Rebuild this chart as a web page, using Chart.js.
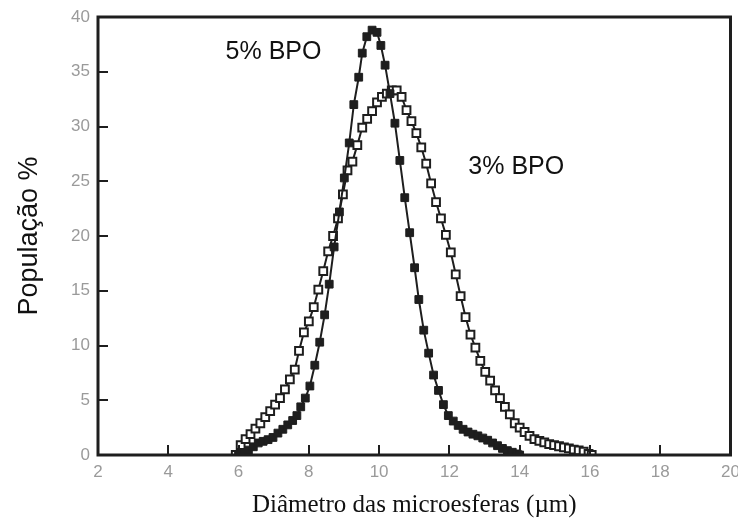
<!DOCTYPE html>
<html><head><meta charset="utf-8">
<script src="https://cdn.jsdelivr.net/npm/chart.js@4/dist/chart.umd.min.js"></script>
<style>html,body{margin:0;padding:0;background:#fff;}canvas{display:block;}</style>
</head><body>
<canvas id="c" width="738" height="527"></canvas>
<script>
// 5% BPO (filled squares)
const bpo5X = [6.00,6.14,6.28,6.42,6.56,6.70,6.84,6.98,7.12,7.26,7.40,7.54,7.66,7.77,7.90,8.03,8.17,8.31,8.45,8.58,8.72,8.87,9.01,9.15,9.28,9.42,9.52,9.65,9.80,9.94,10.05,10.17,10.31,10.45,10.59,10.73,10.87,11.01,11.13,11.27,11.41,11.55,11.69,11.83,11.97,12.11,12.25,12.39,12.53,12.67,12.81,12.95,13.09,13.23,13.37,13.51,13.65,13.79,13.93,14.00];
const bpo5Y = [0.0,0.2,0.45,0.75,1.1,1.25,1.4,1.6,2.0,2.35,2.75,3.15,3.6,4.4,5.2,6.3,8.2,10.3,12.8,15.6,19.0,22.2,25.3,28.5,32.0,34.5,36.7,38.2,38.8,38.6,37.4,35.6,33.0,30.3,26.9,23.5,20.3,17.1,14.2,11.4,9.3,7.3,5.9,4.6,3.6,3.1,2.7,2.35,2.1,1.9,1.75,1.55,1.35,1.1,0.85,0.6,0.4,0.25,0.1,0.0];
// 3% BPO (open squares)
const bpo3X = [5.92,6.06,6.20,6.34,6.48,6.62,6.76,6.90,7.04,7.18,7.32,7.46,7.60,7.72,7.86,8.00,8.14,8.27,8.41,8.55,8.69,8.83,8.97,9.10,9.24,9.38,9.52,9.66,9.80,9.94,10.08,10.22,10.36,10.50,10.64,10.78,10.92,11.06,11.20,11.34,11.48,11.62,11.76,11.90,12.04,12.18,12.32,12.46,12.60,12.74,12.88,13.02,13.16,13.30,13.44,13.58,13.72,13.86,14.00,14.14,14.28,14.42,14.56,14.70,14.84,14.98,15.12,15.26,15.40,15.54,15.68,15.82,15.96,16.05];
const bpo3Y = [0.0,0.9,1.45,1.9,2.4,2.9,3.45,4.0,4.6,5.2,6.0,6.9,7.8,9.5,11.2,12.2,13.5,15.1,16.8,18.6,20.0,21.6,23.8,26.0,26.8,28.3,29.9,30.7,31.4,32.2,32.7,33.0,33.3,33.3,32.7,31.5,30.5,29.4,28.1,26.6,24.8,23.1,21.6,20.1,18.5,16.5,14.5,12.6,11.0,9.8,8.6,7.6,6.8,5.9,5.2,4.4,3.7,2.9,2.5,2.1,1.75,1.45,1.3,1.15,1.0,0.9,0.8,0.7,0.6,0.5,0.42,0.3,0.1,0.0];
const xTicks = [2,4,6,8,10,12,14,16,18,20];
const yTicks = [0,5,10,15,20,25,30,35,40];
const labels = [
  {text:'5% BPO', x:5.63, y:36.8},
  {text:'3% BPO', x:12.54, y:26.25}
];
const xTitle = 'Diâmetro das microesferas (µm)';
const yTitle = 'População %';

const INK = '#1e1e1e';
const toPts = (xs, ys) => xs.map((x, i) => ({x, y: ys[i]}));

const framePlugin = {
  id: 'frame',
  afterDatasetsDraw(chart) {
    const {ctx, chartArea: a, scales: {x, y}} = chart;
    ctx.save();
    ctx.strokeStyle = INK;
    ctx.lineWidth = 2;
    xTicks.forEach(v => {
      if (v === xTicks[0] || v === xTicks[xTicks.length-1]) return;
      const px = Math.round(x.getPixelForValue(v));
      ctx.beginPath(); ctx.moveTo(px, a.bottom); ctx.lineTo(px, a.bottom - 10); ctx.stroke();
    });
    yTicks.forEach(v => {
      if (v === yTicks[0] || v === yTicks[yTicks.length-1]) return;
      const py = Math.round(y.getPixelForValue(v));
      ctx.beginPath(); ctx.moveTo(a.left, py); ctx.lineTo(a.left + 10, py); ctx.stroke();
    });
    ctx.lineWidth = 3;
    ctx.strokeRect(a.left, a.top, a.right - a.left, a.bottom - a.top);
    ctx.fillStyle = '#111';
    ctx.font = '25px "Liberation Sans", Arial, sans-serif';
    ctx.textBaseline = 'middle';
    ctx.textAlign = 'left';
    labels.forEach(l => ctx.fillText(l.text, x.getPixelForValue(l.x), y.getPixelForValue(l.y)));
    ctx.restore();
  }
};

new Chart(document.getElementById('c'), {
  type: 'scatter',
  data: {
    datasets: [
      {
        label: '5% BPO',
        data: toPts(bpo5X, bpo5Y),
        showLine: true,
        borderColor: INK,
        borderWidth: 2,
        pointStyle: 'rect',
        pointRadius: 5.5,
        pointBackgroundColor: INK,
        pointBorderColor: INK,
        pointBorderWidth: 1
      },
      {
        label: '3% BPO',
        data: toPts(bpo3X, bpo3Y),
        showLine: true,
        borderColor: INK,
        borderWidth: 2,
        pointStyle: 'rect',
        pointRadius: 5.5,
        pointBackgroundColor: '#fff',
        pointBorderColor: INK,
        pointBorderWidth: 2
      }
    ]
  },
  options: {
    responsive: false,
    animation: false,
    layout: {padding: {top: 17, right: 1, left: 0, bottom: 0}},
    plugins: {legend: {display: false}, tooltip: {enabled: false}},
    scales: {
      x: {
        type: 'linear', min: 2, max: 20,
        afterBuildTicks: s => { s.ticks = xTicks.map(v => ({value: v})); },
        afterFit: s => { s.height = 72; s.paddingLeft = 0; s.paddingRight = 0; },
        grid: {display: false, drawTicks: false},
        border: {display: false},
        ticks: {color: '#9a9a9a', font: {family: '"Liberation Sans", Arial, sans-serif', size: 17}, padding: 7, maxRotation: 0, autoSkip: false},
        title: {display: true, text: xTitle, color: '#111', font: {family: '"Liberation Serif", "Times New Roman", serif', size: 25}, padding: {top: 0, bottom: 7}}
      },
      y: {
        type: 'linear', min: 0, max: 40,
        afterBuildTicks: s => { s.ticks = yTicks.map(v => ({value: v})); },
        afterFit: s => { s.width = 98; s.paddingTop = 0; s.paddingBottom = 0; },
        grid: {display: false, drawTicks: false},
        border: {display: false},
        ticks: {color: '#9a9a9a', font: {family: '"Liberation Sans", Arial, sans-serif', size: 17}, padding: 8},
        title: {display: true, text: yTitle, color: '#111', font: {family: '"Liberation Sans", Arial, sans-serif', size: 27}, padding: {top: 13, bottom: 0}}
      }
    }
  },
  plugins: [framePlugin]
});
</script>
</body></html>
